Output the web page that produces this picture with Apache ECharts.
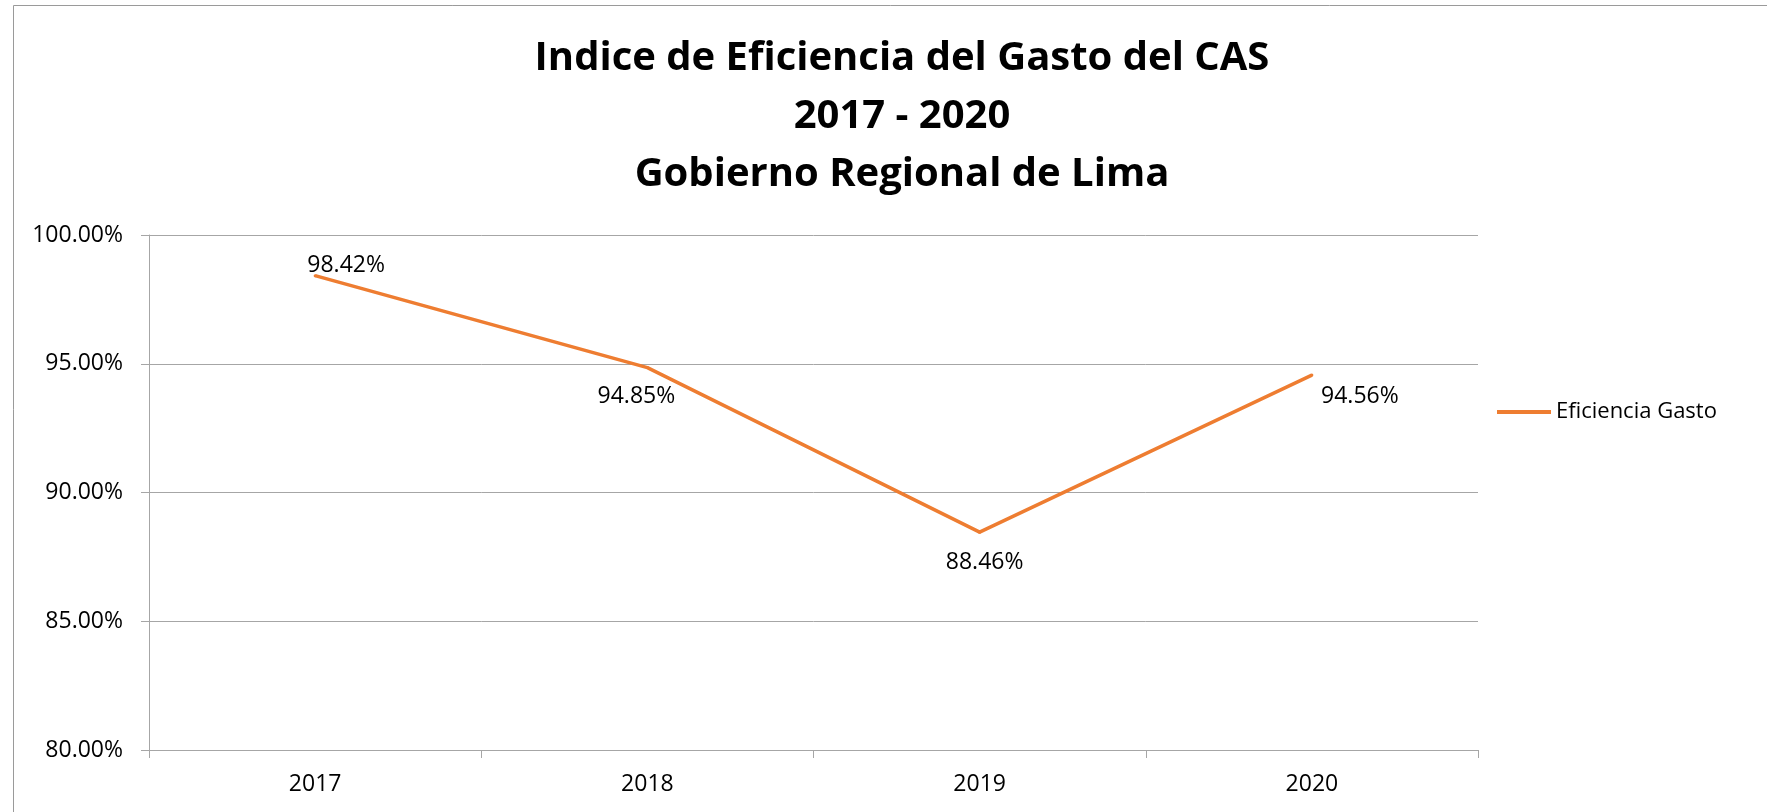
<!DOCTYPE html>
<html>
<head>
<meta charset="utf-8">
<title>Indice de Eficiencia del Gasto del CAS</title>
<script src="https://cdn.jsdelivr.net/npm/echarts@6/dist/echarts.min.js"></script>
<style>
  html, body {
    margin: 0;
    padding: 0;
    background: #ffffff;
  }
  #chart {
    width: 1767px;
    height: 812px;
  }
</style>
</head>
<body>
<div id="chart"></div>
<script>
// datos del grafico
var years = ["2017", "2018", "2019", "2020"]
var eficienciaGasto = [98.42, 94.85, 88.46, 94.56]
var seriesName = "Eficiencia Gasto"
var titleLines = [
  "Indice de Eficiencia del Gasto del CAS",
  "2017 - 2020",
  "Gobierno Regional de Lima"
]

// desplazamiento de cada etiqueta respecto a su punto (como en el original)
var labelOffsets = [[31, -10], [-11, 29], [5, 30], [48, 21]]

var lineColor = "#ee7d31"
var gridColor = "#a6a6a6"
var font = "'Open Sans', 'Noto Sans', sans-serif"

var chart = echarts.init(document.getElementById("chart"))
chart.setOption({
  animation: false,
  textStyle: { fontFamily: font },
  graphic: [
    {
      type: "rect",
      shape: { x: 13.5, y: 5.5, width: 2000, height: 2000 },
      style: { fill: "none", stroke: "#9a9a9a", lineWidth: 1 },
      silent: true
    }
  ],
  title: {
    text: titleLines.join("\n"),
    left: 897,
    top: 25,
    textAlign: "center",
    textStyle: {
      fontFamily: font,
      fontSize: 40,
      fontWeight: "bold",
      color: "#000000",
      lineHeight: 58
    }
  },
  legend: {
    data: [seriesName],
    left: 1492,
    top: 396,
    icon: "rect",
    itemWidth: 54,
    itemHeight: 4,
    itemGap: 5,
    textStyle: {
      fontFamily: font,
      fontSize: 22,
      color: "#000000",
      padding: [0, 0, 0, 0]
    }
  },
  grid: {
    left: 149,
    right: 289,
    top: 235,
    bottom: 62
  },
  xAxis: {
    type: "category",
    data: years,
    boundaryGap: true,
    axisLine: { lineStyle: { color: gridColor, width: 1 } },
    axisTick: { show: true, length: 8, lineStyle: { color: gridColor } },
    axisLabel: {
      margin: 23,
      fontSize: 23,
      color: "#000000",
      fontFamily: font
    },
    splitLine: { show: false }
  },
  yAxis: {
    type: "value",
    min: 80,
    max: 100,
    interval: 5,
    axisLine: { show: true, lineStyle: { color: gridColor, width: 1 } },
    axisTick: { show: true, length: 8, lineStyle: { color: gridColor } },
    axisLabel: {
      margin: 26,
      fontSize: 23,
      color: "#000000",
      fontFamily: font,
      formatter: function (v) {
        return v.toFixed(2) + "%"
      }
    },
    splitLine: { show: true, lineStyle: { color: gridColor, width: 1 } }
  },
  series: [
    {
      name: seriesName,
      type: "line",
      symbol: "circle",
      symbolSize: 3,
      showSymbol: true,
      itemStyle: { color: lineColor },
      lineStyle: { color: lineColor, width: 3.5 },
      label: {
        show: true,
        position: "inside",
        fontSize: 23,
        color: "#000000",
        fontFamily: font,
        formatter: function (p) {
          return p.value.toFixed(2) + "%"
        }
      },
      data: eficienciaGasto.map(function (v, i) {
        return { value: v, label: { offset: labelOffsets[i] } }
      })
    }
  ]
})
</script>
</body>
</html>
